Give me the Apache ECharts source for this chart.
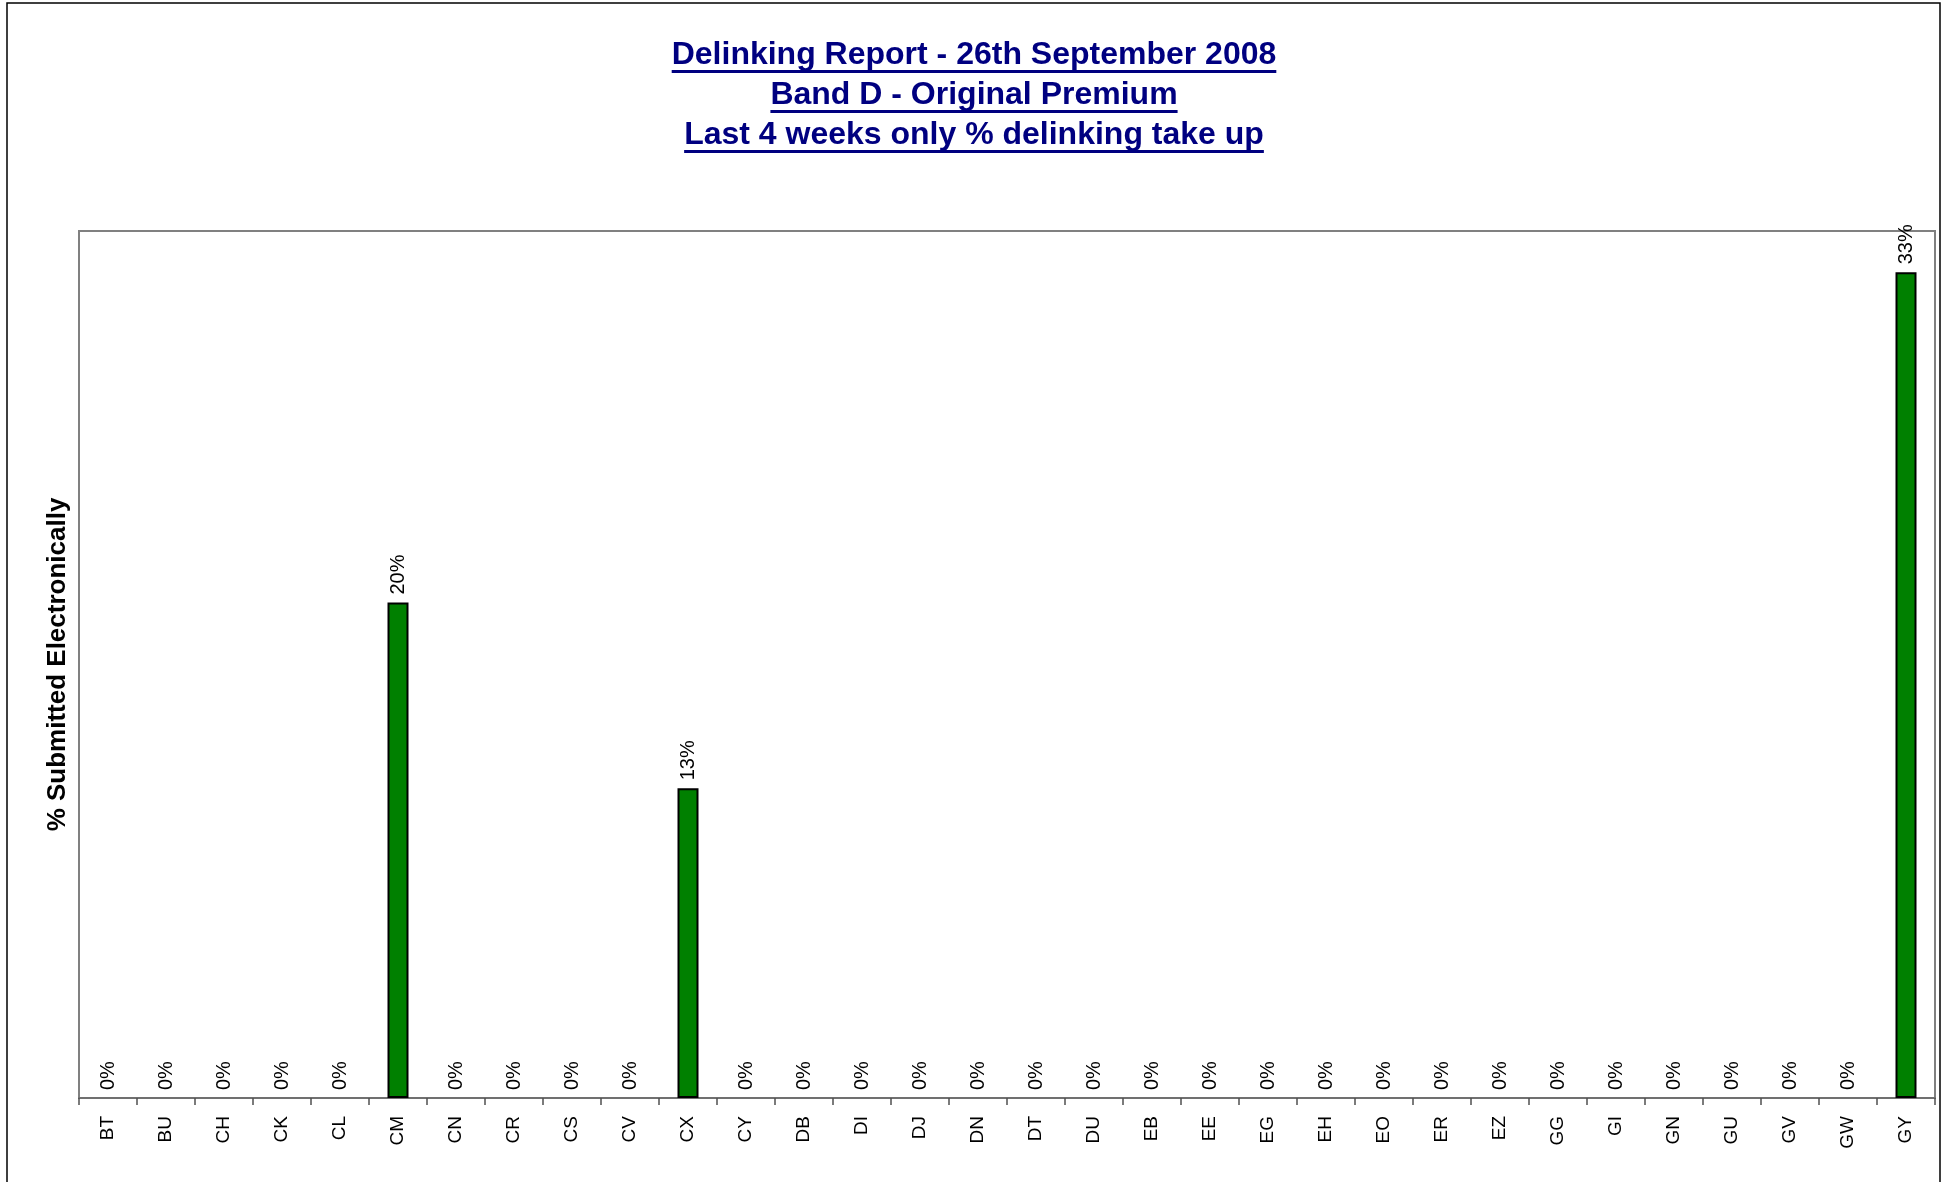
<!DOCTYPE html>
<html>
<head>
<meta charset="utf-8">
<script src="https://cdn.jsdelivr.net/npm/echarts@6/dist/echarts.min.js"></script>
<style>
html,body{margin:0;padding:0;background:#fff;}
#chart{width:1948px;height:1182px;}
</style>
</head>
<body>
<div id="chart"></div>
<script>
const categories = ['BT','BU','CH','CK','CL','CM','CN','CR','CS','CV','CX','CY','DB','DI','DJ','DN','DT','DU','EB','EE','EG','EH','EO','ER','EZ','GG','GI','GN','GU','GV','GW','GY'];
const takeUp = [0,0,0,0,0,0.2,0,0,0,0,0.125,0,0,0,0,0,0,0,0,0,0,0,0,0,0,0,0,0,0,0,0,0.3333];
const titleLines = ['Delinking Report - 26th September 2008','Band D - Original Premium','Last 4 weeks only % delinking take up'];
const yAxisName = '% Submitted Electronically';

const FONT = '"Liberation Sans", Arial, Helvetica, sans-serif';
const chart = echarts.init(document.getElementById('chart'));

const ctx = document.createElement('canvas').getContext('2d');
ctx.font = 'bold 32px ' + FONT;
const titleGraphics = [];
titleLines.forEach((t, i) => {
  const cy = 58 + i * 40;
  const w = ctx.measureText(t).width;
  titleGraphics.push({
    type: 'text', left: 'center', top: cy - 19,
    style: { text: t, font: 'bold 32px ' + FONT, fill: '#000080' }
  });
  titleGraphics.push({
    type: 'rect', shape: { x: 974 - w / 2, y: cy + 12, width: w, height: 3 },
    style: { fill: '#000080' }
  });
});

const barData = takeUp.map(v => v === 0 ? { value: v, itemStyle: { borderWidth: 0 } } : v);

chart.setOption({
  animation: false,
  backgroundColor: '#fff',
  graphic: [
    { type: 'rect', shape: { x: 7, y: 3, width: 1933, height: 1200 }, style: { fill: 'none', stroke: '#000', lineWidth: 1.5 } }
  ].concat(titleGraphics),
  grid: { left: 79, right: 13, top: 231, bottom: 84, show: true, borderColor: '#808080', borderWidth: 2, backgroundColor: '#fff' },
  xAxis: {
    type: 'category', data: categories,
    axisLine: { lineStyle: { color: '#707070', width: 2 } },
    axisTick: { show: true, length: 7, interval: 0, lineStyle: { color: '#505050', width: 1.5 } },
    axisLabel: { interval: 0, rotate: 90, margin: 18, fontSize: 19, color: '#000', fontFamily: FONT }
  },
  yAxis: {
    type: 'value', min: 0, max: 0.35,
    name: yAxisName, nameLocation: 'middle', nameGap: 8,
    nameTextStyle: { fontSize: 26, fontWeight: 'bold', color: '#000', fontFamily: FONT },
    axisLine: { show: false }, axisTick: { show: false }, axisLabel: { show: false }, splitLine: { show: false }
  },
  series: [{
    type: 'bar', data: barData, barWidth: 21,
    itemStyle: { color: '#008000', borderColor: '#000', borderWidth: 2 },
    label: {
      show: true, position: 'top', rotate: 90, align: 'left', verticalAlign: 'middle', distance: 8,
      fontSize: 20, color: '#000', fontFamily: FONT,
      formatter: p => Math.round(p.value * 100) + '%'
    }
  }]
});
</script>
</body>
</html>
